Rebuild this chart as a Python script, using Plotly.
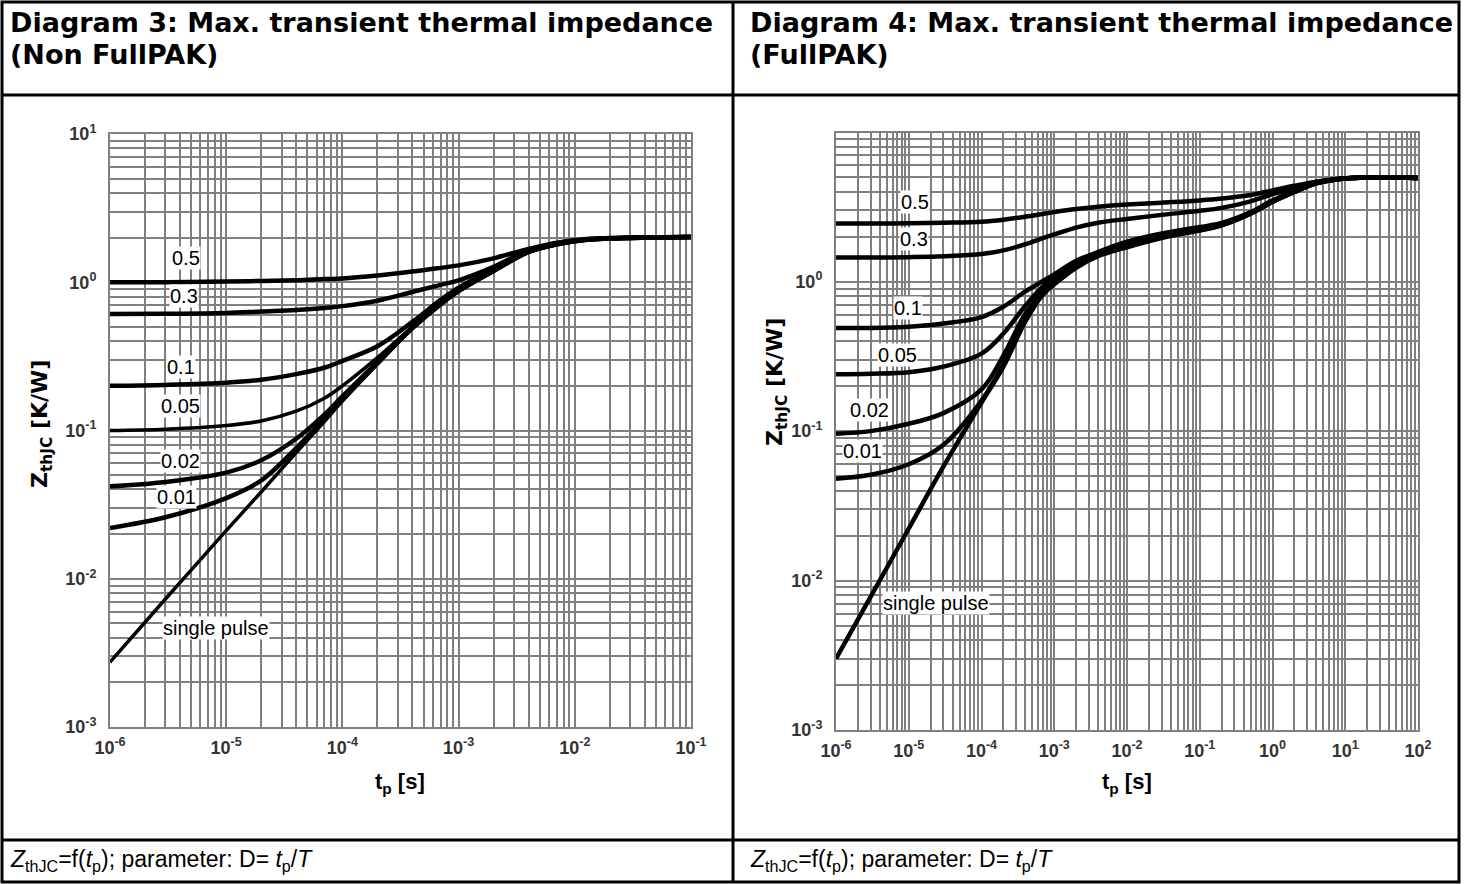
import plotly.graph_objects as go

# ---------------- data ----------------
D_LABELS = ["0.5", "0.3", "0.1", "0.05", "0.02", "0.01", "single pulse"]

# Diagram 3 (Non FullPAK): Z_thJC [K/W] vs t_p [s]
T_LEFT = [1e-6, 3e-6, 1e-5, 2e-5, 4e-5, 7e-5, 1e-4, 2e-4, 4e-4, 7e-4, 1e-3, 2e-3, 4e-3, 7e-3, 1.2e-2, 3e-2, 1e-1]
ZL_05 = [1.00, 1.00, 1.01, 1.02, 1.03, 1.05, 1.06, 1.11, 1.18, 1.25, 1.30, 1.45, 1.68, 1.85, 1.95, 2.00, 2.02]
ZL_03 = [0.61, 0.612, 0.62, 0.635, 0.65, 0.67, 0.69, 0.75, 0.86, 0.96, 1.03, 1.27, 1.64, 1.82, 1.94, 2.00, 2.02]
ZL_01 = [0.20, 0.203, 0.21, 0.22, 0.24, 0.265, 0.295, 0.37, 0.54, 0.76, 0.92, 1.22, 1.61, 1.81, 1.93, 1.99, 2.02]
ZL_005 = [0.10, 0.102, 0.108, 0.116, 0.135, 0.165, 0.20, 0.31, 0.50, 0.72, 0.88, 1.20, 1.60, 1.80, 1.93, 1.99, 2.02]
ZL_002 = [0.042, 0.045, 0.052, 0.063, 0.088, 0.128, 0.17, 0.29, 0.495, 0.715, 0.875, 1.195, 1.60, 1.80, 1.93, 1.99, 2.02]
ZL_001 = [0.022, 0.026, 0.035, 0.046, 0.076, 0.12, 0.165, 0.285, 0.49, 0.71, 0.87, 1.19, 1.60, 1.80, 1.93, 1.99, 2.02]
ZL_SP = [0.00274, 0.0073, 0.0211, 0.0385, 0.071, 0.115, 0.158, 0.28, 0.485, 0.705, 0.865, 1.185, 1.59, 1.80, 1.93, 1.99, 2.02]

# Diagram 4 (FullPAK)
T_RIGHT = [1e-6, 3e-6, 1e-5, 3e-5, 1e-4, 2e-4, 4e-4, 7e-4, 1e-3, 2e-3, 4e-3, 1e-2, 3e-2, 1e-1, 2e-1, 5e-1, 1, 2, 4, 10, 100]
ZR_05 = [2.45, 2.45, 2.46, 2.48, 2.52, 2.60, 2.72, 2.84, 2.92, 3.06, 3.17, 3.28, 3.38, 3.50, 3.60, 3.80, 4.08, 4.38, 4.67, 4.92, 4.95]
ZR_03 = [1.45, 1.45, 1.46, 1.48, 1.53, 1.62, 1.78, 1.96, 2.07, 2.30, 2.48, 2.63, 2.80, 2.98, 3.12, 3.45, 3.85, 4.20, 4.58, 4.92, 4.95]
ZR_01 = [0.49, 0.49, 0.50, 0.525, 0.58, 0.68, 0.86, 1.01, 1.12, 1.38, 1.58, 1.85, 2.10, 2.32, 2.47, 2.92, 3.50, 4.02, 4.58, 4.91, 4.95]
ZR_005 = [0.24, 0.242, 0.248, 0.27, 0.33, 0.45, 0.69, 0.93, 1.06, 1.32, 1.55, 1.80, 2.05, 2.28, 2.42, 2.88, 3.45, 4.00, 4.57, 4.91, 4.95]
ZR_002 = [0.096, 0.10, 0.112, 0.132, 0.19, 0.32, 0.61, 0.86, 1.02, 1.29, 1.52, 1.76, 2.01, 2.24, 2.40, 2.86, 3.43, 3.99, 4.56, 4.90, 4.95]
ZR_001 = [0.048, 0.051, 0.060, 0.081, 0.16, 0.28, 0.56, 0.84, 0.99, 1.27, 1.51, 1.74, 1.99, 2.22, 2.39, 2.86, 3.43, 3.99, 4.56, 4.90, 4.95]
ZR_SP = [0.003, 0.0078, 0.0223, 0.058, 0.155, 0.27, 0.54, 0.82, 0.96, 1.24, 1.48, 1.70, 1.96, 2.20, 2.38, 2.85, 3.42, 3.98, 4.55, 4.90, 4.95]

LEFT_SERIES = [ZL_05, ZL_03, ZL_01, ZL_005, ZL_002, ZL_001, ZL_SP]
RIGHT_SERIES = [ZR_05, ZR_03, ZR_01, ZR_005, ZR_002, ZR_001, ZR_SP]

X_DECADES_LEFT = [-6, -5, -4, -3, -2, -1]
X_DECADES_RIGHT = [-6, -5, -4, -3, -2, -1, 0, 1, 2]
Y_DECADES_LEFT = [-3, -2, -1, 0, 1]
Y_DECADES_RIGHT = [-3, -2, -1, 0]

TITLE_LEFT = ["Diagram 3: Max. transient thermal impedance", "(Non FullPAK)"]
TITLE_RIGHT = ["Diagram 4: Max. transient thermal impedance", "(FullPAK)"]
CAPTION = "<i>Z</i><sub>thJC</sub>=f(<i>t</i><sub>p</sub>); parameter: D= <i>t</i><sub>p</sub>/<i>T</i>"
X_TITLE = "t<sub>p</sub> [s]"
Y_TITLE = "Z<sub>thJC</sub> [K/W]"

# ---------------- layout helpers ----------------
W, H = 1466, 884
FONT = "Arial, Liberation Sans, sans-serif"
WIDE_FONT = "DejaVu Sans, Arial, sans-serif"


def px(x):
    return x / W


def py(y):
    return 1 - y / H


def log_ticks(decades):
    vals, text = [], []
    for i, e in enumerate(decades):
        last = i == len(decades) - 1
        mults = [1] if last else range(1, 10)
        for m in mults:
            vals.append(m * 10.0 ** e)
            text.append(f"10<sup>{e}</sup>" if m == 1 else "")
    return vals, text


def log_ticks_open(decades):
    vals, text = [], []
    for e in decades:
        for m in range(1, 10):
            vals.append(m * 10.0 ** e)
            text.append(f"10<sup>{e}</sup>" if m == 1 else "")
    return vals, text


fig = go.Figure()

widths_left = [4.5, 4.5, 4.5, 3.5, 4.5, 4.5, 3.5]
widths_right = [4.5, 4.5, 4.5, 4.5, 4.5, 4.5, 4.5]

for ys, w in zip(LEFT_SERIES, widths_left):
    fig.add_trace(go.Scatter(x=T_LEFT, y=ys, mode="lines", xaxis="x", yaxis="y",
                             line=dict(color="black", width=w, shape="spline", smoothing=1.0),
                             showlegend=False, hoverinfo="skip"))
for ys, w in zip(RIGHT_SERIES, widths_right):
    fig.add_trace(go.Scatter(x=T_RIGHT, y=ys, mode="lines", xaxis="x2", yaxis="y2",
                             line=dict(color="black", width=w, shape="spline", smoothing=1.0),
                             showlegend=False, hoverinfo="skip"))

grid = dict(showgrid=True, gridcolor="#808080", gridwidth=2, zeroline=False,
            showline=True, linecolor="#808080", linewidth=2, mirror=True,
            ticks="", tickfont=dict(family=FONT, size=18, color="#333333", weight="bold"))

xl_v, xl_t = log_ticks(X_DECADES_LEFT)
yl_v, yl_t = log_ticks(Y_DECADES_LEFT)
xr_v, xr_t = log_ticks(X_DECADES_RIGHT)
yr_v, yr_t = log_ticks_open(Y_DECADES_RIGHT)

fig.update_layout(
    width=W, height=H, margin=dict(l=0, r=0, t=0, b=0, pad=0, autoexpand=False),
    paper_bgcolor="white", plot_bgcolor="white",
    xaxis=dict(type="log", range=[-6, -1], domain=[px(110), px(691)], anchor="y",
               tickvals=xl_v, ticktext=xl_t, ticklabelstandoff=3, **grid),
    yaxis=dict(type="log", range=[-3, 1], domain=[py(727), py(134)], anchor="x",
               tickvals=yl_v, ticktext=yl_t, ticklabelstandoff=8, **grid),
    xaxis2=dict(type="log", range=[-6, 2], domain=[px(836), px(1418)], anchor="y2",
                tickvals=xr_v, ticktext=xr_t, ticklabelstandoff=3, **grid),
    yaxis2=dict(type="log", range=[-3, 0.995], domain=[py(730), py(133)], anchor="x2",
                tickvals=yr_v, ticktext=yr_t, ticklabelstandoff=8, **grid),
)

ann = []
LABEL_POS_LEFT = [(186, 258), (184, 296), (181, 367), (180, 406), (180, 461), (176, 497), (216, 628)]
LABEL_POS_RIGHT = [(915, 202), (914, 239), (908, 308), (897, 355), (869, 410), (862, 451), (936, 603)]
for lab, (x, y) in list(zip(D_LABELS, LABEL_POS_LEFT)) + list(zip(D_LABELS, LABEL_POS_RIGHT)):
    ann.append(dict(x=px(x), y=py(y), xref="paper", yref="paper", text=lab, showarrow=False,
                    font=dict(family=FONT, size=20, color="black"), bgcolor="white",
                    borderpad=0, xanchor="center", yanchor="middle"))

for (l1, l2), x0 in [(TITLE_LEFT, 8), (TITLE_RIGHT, 748)]:
    ann.append(dict(x=px(x0), y=py(22.5), xref="paper", yref="paper", text=f"<b>{l1}</b>",
                    showarrow=False, xanchor="left", yanchor="middle",
                    font=dict(family=WIDE_FONT, size=27, color="black")))
    ann.append(dict(x=px(x0), y=py(54.5), xref="paper", yref="paper", text=f"<b>{l2}</b>",
                    showarrow=False, xanchor="left", yanchor="middle",
                    font=dict(family=WIDE_FONT, size=27, color="black")))
    ann.append(dict(x=px(x0), y=py(860), xref="paper", yref="paper", text=CAPTION,
                    showarrow=False, xanchor="left", yanchor="middle",
                    font=dict(family=FONT, size=23, color="black")))

for xc in [400, 1127]:
    ann.append(dict(x=px(xc), y=py(783), xref="paper", yref="paper", text=f"<b>{X_TITLE}</b>",
                    showarrow=False, xanchor="center", yanchor="middle",
                    font=dict(family=FONT, size=22, color="black")))
for xc, yc in [(41, 424), (776, 382)]:
    ann.append(dict(x=px(xc), y=py(yc), xref="paper", yref="paper", text=f"<b>{Y_TITLE}</b>",
                    showarrow=False, xanchor="center", yanchor="middle", textangle=-90,
                    font=dict(family=WIDE_FONT, size=22, color="black")))

fig.update_layout(annotations=ann)

shapes = []
line = dict(color="black", width=3)
shapes.append(dict(type="rect", xref="paper", yref="paper", x0=px(2), x1=px(1459), y0=py(882), y1=py(2), line=line))
shapes.append(dict(type="line", xref="paper", yref="paper", x0=px(733), x1=px(733), y0=py(882), y1=py(2), line=line))
shapes.append(dict(type="line", xref="paper", yref="paper", x0=px(2), x1=px(1459), y0=py(95), y1=py(95), line=line))
shapes.append(dict(type="line", xref="paper", yref="paper", x0=px(2), x1=px(1459), y0=py(840), y1=py(840), line=line))
fig.update_layout(shapes=shapes)

fig.write_html(
    "out.html",
    config={"displayModeBar": False},
    post_script="document.body.style.margin='0';document.body.style.padding='0';"
                "document.body.style.overflow='hidden';",
)
